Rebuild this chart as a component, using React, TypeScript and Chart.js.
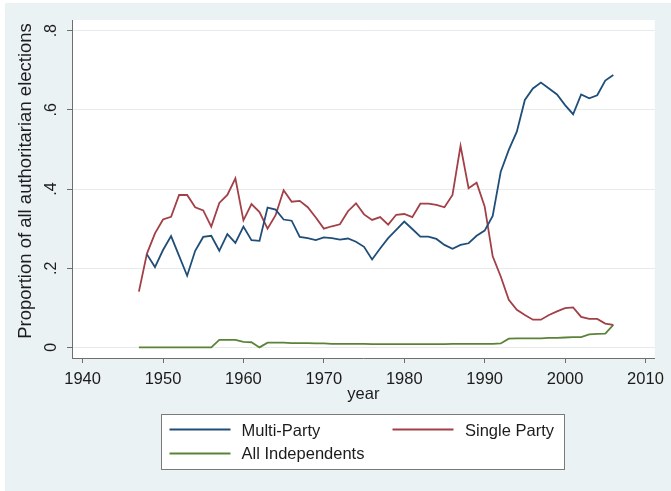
import React, { useEffect, useRef } from "react";
import { Chart, registerables } from "chart.js";

Chart.register(...registerables);

// ---- data ----
const years = [
  1947, 1948, 1949, 1950, 1951, 1952, 1953, 1954, 1955, 1956,
  1957, 1958, 1959, 1960, 1961, 1962, 1963, 1964, 1965, 1966,
  1967, 1968, 1969, 1970, 1971, 1972, 1973, 1974, 1975, 1976,
  1977, 1978, 1979, 1980, 1981, 1982, 1983, 1984, 1985, 1986,
  1987, 1988, 1989, 1990, 1991, 1992, 1993, 1994, 1995, 1996,
  1997, 1998, 1999, 2000, 2001, 2002, 2003, 2004, 2005, 2006,
];

const multiParty = [
  null, 0.235, 0.203, 0.246, 0.281, 0.231, 0.181, 0.244, 0.279, 0.282,
  0.244, 0.286, 0.264, 0.305, 0.271, 0.269, 0.353, 0.348, 0.323, 0.320,
  0.279, 0.276, 0.271, 0.278, 0.276, 0.272, 0.275, 0.267, 0.254, 0.222,
  0.250, 0.276, 0.297, 0.318, 0.299, 0.280, 0.280, 0.274, 0.259, 0.249,
  0.259, 0.263, 0.282, 0.295, 0.332, 0.444, 0.499, 0.545, 0.625, 0.654,
  0.669, 0.654, 0.639, 0.612, 0.589, 0.639, 0.629, 0.637, 0.674, 0.688,
];

const singleParty = [
  0.141, 0.237, 0.288, 0.323, 0.330, 0.385, 0.385, 0.354, 0.346, 0.305,
  0.365, 0.385, 0.427, 0.321, 0.362, 0.342, 0.300, 0.334, 0.397, 0.368,
  0.370, 0.354, 0.328, 0.300, 0.306, 0.311, 0.344, 0.364, 0.336, 0.322,
  0.329, 0.310, 0.335, 0.337, 0.329, 0.363, 0.363, 0.360, 0.354, 0.385,
  0.509, 0.402, 0.416, 0.356, 0.230, 0.179, 0.120, 0.095, 0.082, 0.070,
  0.070, 0.082, 0.091, 0.099, 0.101, 0.077, 0.072, 0.072, 0.060, 0.057,
];

const allIndependents = [
  0.0, 0.0, 0.0, 0.0, 0.0, 0.0, 0.0, 0.0, 0.0, 0.0,
  0.019, 0.019, 0.019, 0.014, 0.013, 0.0, 0.012, 0.012, 0.012, 0.011,
  0.011, 0.011, 0.010, 0.010, 0.009, 0.009, 0.009, 0.009, 0.009, 0.008,
  0.008, 0.008, 0.008, 0.008, 0.008, 0.008, 0.008, 0.008, 0.008, 0.009,
  0.009, 0.009, 0.009, 0.009, 0.009, 0.010, 0.022, 0.023, 0.023, 0.023,
  0.023, 0.024, 0.024, 0.025, 0.026, 0.026, 0.033, 0.034, 0.035, 0.057,
];

const xTickValues = [1940, 1950, 1960, 1970, 1980, 1990, 2000, 2010];
const yTickValues = [0, 0.2, 0.4, 0.6, 0.8];
const yTickLabels = ["0", ".2", ".4", ".6", ".8"];

const seriesLabels = ["Multi-Party", "Single Party", "All Independents"];
const seriesColors = ["#1f4e79", "#a23f47", "#5b8338"];

const xTitle = "year";
const yTitle = "Proportion of all authoritarian elections";

// ---- styling ----
const FONT = "'Liberation Sans', Arial, Helvetica, sans-serif";
const TEXT = "#1c1c1c";
const AXIS = "#6e6e6e";
const GRID = "#e6eaeb";
const BG = "#eaf2f3";

const toPoints = (vals: (number | null)[]) =>
  years.map((yr, i) => ({ x: yr, y: vals[i] }));

const stataPlugin = {
  id: "stataDecor",
  beforeDraw(chart: any) {
    const { ctx, width, height, chartArea } = chart;
    ctx.save();
    ctx.fillStyle = "#ffffff";
    ctx.fillRect(0, 0, width, height);
    ctx.fillStyle = BG;
    ctx.fillRect(5, 3, width - 5, height - 3);
    ctx.fillStyle = "#ffffff";
    ctx.fillRect(
      chartArea.left,
      chartArea.top,
      chartArea.right - chartArea.left,
      chartArea.bottom - chartArea.top
    );
    ctx.restore();
  },
  afterDraw(chart: any) {
    const { ctx } = chart;
    const yScale = chart.scales.y;
    ctx.save();
    ctx.fillStyle = TEXT;

    // rotated y tick labels
    ctx.font = `16px ${FONT}`;
    ctx.textAlign = "center";
    ctx.textBaseline = "middle";
    yTickValues.forEach((v, i) => {
      const py = yScale.getPixelForValue(v);
      ctx.save();
      ctx.translate(52, py);
      ctx.rotate(-Math.PI / 2);
      ctx.fillText(yTickLabels[i], 0, 0);
      ctx.restore();
    });

    // y axis title
    ctx.font = `18.5px ${FONT}`;
    ctx.save();
    ctx.translate(25.5, 181);
    ctx.rotate(-Math.PI / 2);
    ctx.fillText(yTitle, 0, 0);
    ctx.restore();

    // legend
    const bx = 161.5, by = 414.5, bw = 403, bh = 55;
    ctx.fillStyle = "#ffffff";
    ctx.fillRect(bx, by, bw, bh);
    ctx.strokeStyle = "#7a7a7a";
    ctx.lineWidth = 1;
    ctx.strokeRect(bx, by, bw, bh);

    const items = [
      { lx: 169.5, ly: 429.5, tx: 241.5, ty: 431 },
      { lx: 392.5, ly: 429.5, tx: 465, ty: 431 },
      { lx: 169.5, ly: 453.5, tx: 241.5, ty: 454.5 },
    ];
    ctx.font = `16.5px ${FONT}`;
    ctx.textAlign = "left";
    ctx.textBaseline = "middle";
    items.forEach((it, i) => {
      ctx.strokeStyle = seriesColors[i];
      ctx.lineWidth = 1.8;
      ctx.beginPath();
      ctx.moveTo(it.lx, it.ly);
      ctx.lineTo(it.lx + 61, it.ly);
      ctx.stroke();
      ctx.fillStyle = TEXT;
      ctx.fillText(seriesLabels[i], it.tx, it.ty);
    });
    ctx.restore();
  },
};

export default function App() {
  const canvasRef = useRef<HTMLCanvasElement | null>(null);

  useEffect(() => {
    if (!canvasRef.current) return;
    const seriesValues = [multiParty, singleParty, allIndependents];
    const chart = new Chart(canvasRef.current, {
      type: "line",
      data: {
        datasets: seriesValues.map((vals, i) => ({
          label: seriesLabels[i],
          data: toPoints(vals),
          borderColor: seriesColors[i],
          backgroundColor: seriesColors[i],
          borderWidth: 1.8,
          pointRadius: 0,
          pointHoverRadius: 0,
          tension: 0,
          fill: false,
          spanGaps: false,
        })),
      },
      options: {
        responsive: false,
        animation: false,
        layout: { padding: { top: 20, left: 0, right: 11, bottom: 87 } },
        plugins: {
          legend: { display: false },
          tooltip: { enabled: false },
        },
        scales: {
          x: {
            type: "linear",
            min: 1938.68,
            max: 2011.15,
            afterBuildTicks: (scale: any) => {
              scale.ticks = xTickValues.map((v) => ({ value: v }));
            },
            afterFit: (scale: any) => {
              scale.height = 46;
            },
            ticks: {
              autoSkip: false,
              maxRotation: 0,
              minRotation: 0,
              padding: 7,
              color: TEXT,
              font: { family: FONT, size: 16.5 },
              callback: (v: any) => String(v),
            },
            grid: {
              drawOnChartArea: false,
              drawTicks: true,
              tickLength: 5,
              tickColor: AXIS,
            },
            border: { display: true, color: AXIS, width: 1 },
            title: {
              display: true,
              text: xTitle,
              color: TEXT,
              font: { family: FONT, size: 16.5 },
              padding: { top: 0, bottom: 0 },
            },
          },
          y: {
            type: "linear",
            min: -0.0268,
            max: 0.827,
            afterBuildTicks: (scale: any) => {
              scale.ticks = yTickValues.map((v) => ({ value: v }));
            },
            afterFit: (scale: any) => {
              scale.width = 72;
            },
            ticks: { display: false },
            grid: {
              color: GRID,
              lineWidth: 1,
              drawTicks: true,
              tickLength: 5,
              tickColor: AXIS,
            },
            border: { display: true, color: AXIS, width: 1 },
          },
        },
      },
      plugins: [stataPlugin],
    });
    return () => chart.destroy();
  }, []);

  return (
    <div
      style={{
        position: "fixed",
        left: 0,
        top: 0,
        width: 671,
        height: 491,
        background: "#ffffff",
      }}
    >
      <canvas ref={canvasRef} width={671} height={491} style={{ display: "block" }} />
    </div>
  );
}
